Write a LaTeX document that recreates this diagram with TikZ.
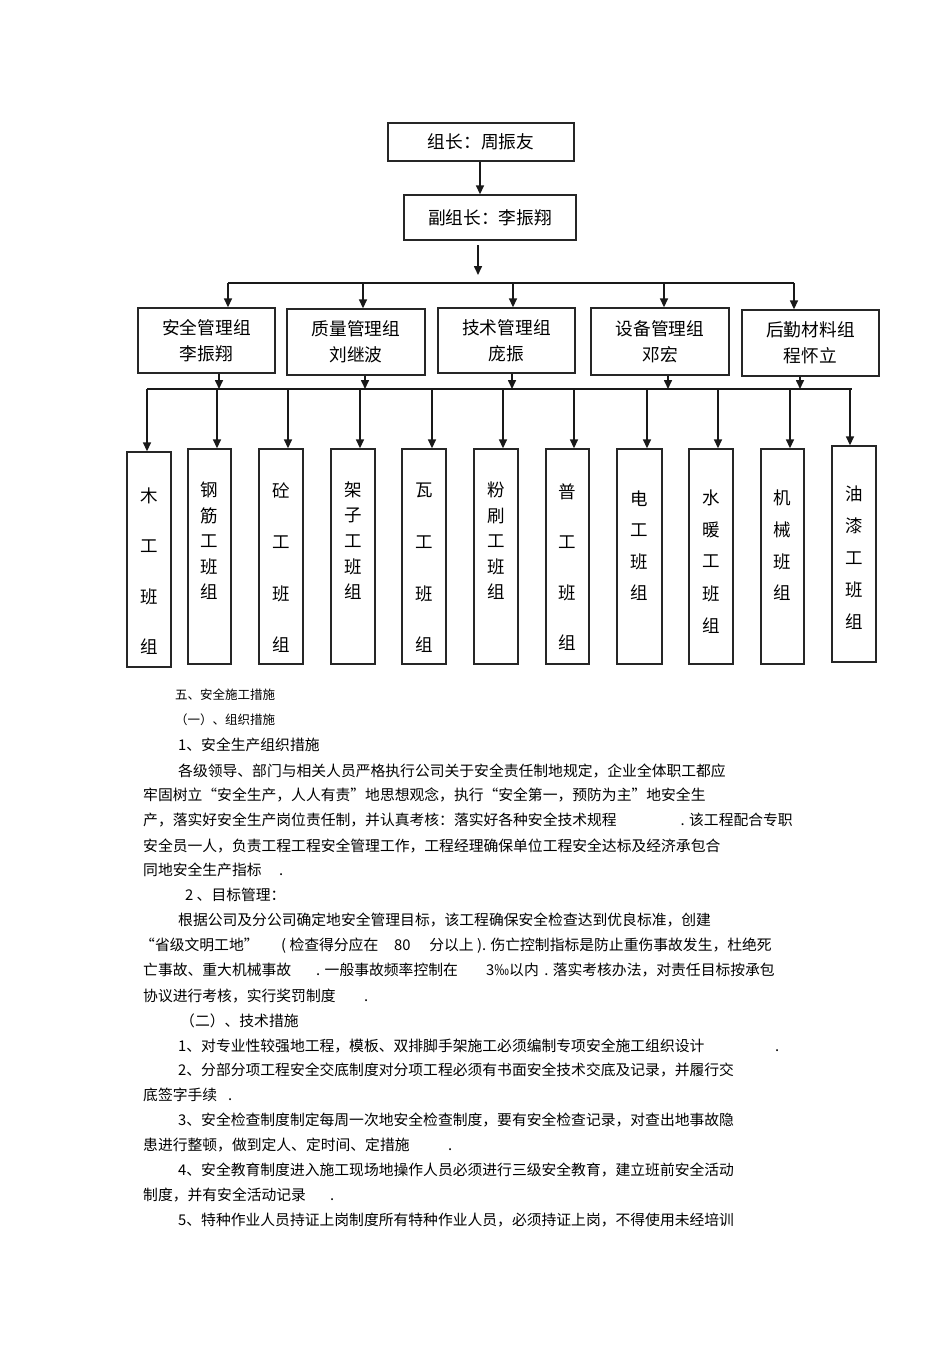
\documentclass[tikz,border=0pt]{standalone}
\usepackage{fontspec}
\newfontfamily\cjk{Noto Sans CJK SC}
\usetikzlibrary{arrows.meta}
\newcommand\myfs[1]{\fontsize{#1}{#1}\selectfont}
\newcommand\teamtext[5]{%
  \foreach \c [count=\i] in {#5} \node[tch] (#1c\i) at (#2, #3+#4*\i-#4) {\c};}
\begin{document}
\begin{tikzpicture}[x=1pt,y=-1pt,
  bx/.style={draw=black!85, line width=1.4pt, inner sep=0pt, align=center, font=\cjk\fontsize{17.7}{26}\selectfont},
  tbx/.style={draw=black!85, line width=1.4pt, inner sep=0pt, minimum height=215pt},
  ln/.style={line width=1.6pt, draw=black!90},
  arr/.style={ln, -{Triangle[length=9pt,width=8pt]}},
  tch/.style={inner sep=0pt, font=\cjk\myfs{17.5}},
  txt/.style={anchor=base west, inner sep=0pt, font=\cjk\myfs{14.8}},
  txte/.style={txt, anchor=base east},
  sm/.style={txt, font=\cjk\myfs{12.5}}]
\fill[white] (0,0) rectangle (950,1345);
\useasboundingbox (0,0) rectangle (950,1345);

% top levels
\node[bx, minimum width=186pt, minimum height=38pt] (top) at (481,142) {组长：周振友};
\node[bx, minimum width=172pt, minimum height=45pt] (dep) at (490,217.5) {副组长：李振翔};
\draw[arr] ([xshift=-1pt]top.south) -- ([xshift=-1pt]top.south |- dep.north);
\coordinate (d1) at (478,245);
\coordinate (d2) at (478,275);
\draw[arr] (d1) -- (d2);

% group boxes
\node[bx, minimum width=137pt, minimum height=65pt] (g1) at (206.5,340.5) {安全管理组\\李振翔};
\node[bx, minimum width=138pt, minimum height=66pt] (g2) at (356,342) {质量管理组\\刘继波};
\node[bx, minimum width=137pt, minimum height=65pt] (g3) at (506.5,340.5) {技术管理组\\庞振};
\node[bx, minimum width=138pt, minimum height=67pt] (g4) at (660,341.5) {设备管理组\\邓宏};
\node[bx, minimum width=137pt, minimum height=66pt] (g5) at (810.5,343) {后勤材料组\\程怀立};

\coordinate (h1) at (228,283);
\coordinate (h2) at (363,283);
\coordinate (h3) at (513,283);
\coordinate (h4) at (664,283);
\coordinate (h5) at (794,283);
\draw[ln] (h1) -- (h5);
\foreach \k in {1,...,5} \draw[arr] (h\k) -- (h\k |- g\k.north);

% lower bar
\coordinate (u1) at (219,389);
\coordinate (u2) at (365,389);
\coordinate (u3) at (512,389);
\coordinate (u4) at (668,389);
\coordinate (u5) at (800,389);
\foreach \k in {1,...,5} \draw[arr] (u\k |- g\k.south) -- (u\k);

% team boxes
\node[tbx, minimum width=44pt] (t1) at (149,559.5) {};
\node[tbx, minimum width=43pt] (t2) at (209.5,556.5) {};
\node[tbx, minimum width=44pt] (t3) at (281,556.5) {};
\node[tbx, minimum width=44pt] (t4) at (353,556.5) {};
\node[tbx, minimum width=44pt] (t5) at (424,556.5) {};
\node[tbx, minimum width=44pt] (t6) at (496,556.5) {};
\node[tbx, minimum width=43pt] (t7) at (567.5,556.5) {};
\node[tbx, minimum width=45pt] (t8) at (639.5,556.5) {};
\node[tbx, minimum width=44pt] (t9) at (711,556.5) {};
\node[tbx, minimum width=43pt] (t10) at (782.5,556.5) {};
\node[tbx, minimum width=44pt, minimum height=216pt] (t11) at (854,554) {};

\coordinate (v1) at (147,389);
\coordinate (v2) at (217,389);
\coordinate (v3) at (288,389);
\coordinate (v4) at (360,389);
\coordinate (v5) at (432,389);
\coordinate (v6) at (503,389);
\coordinate (v7) at (574,389);
\coordinate (v8) at (647,389);
\coordinate (v9) at (718,389);
\coordinate (v10) at (790,389);
\coordinate (v11) at (850,389);
\coordinate (v12) at (852,389);
\draw[ln] (v1) -- (v12);
\foreach \k in {1,...,11} \draw[arr] (v\k) -- (v\k |- t\k.north);

\teamtext{t1}{149}{496}{50.3}{木,工,班,组}
\teamtext{t2}{209.5}{490}{25.5}{钢,筋,工,班,组}
\teamtext{t3}{281}{490}{51.7}{砼,工,班,组}
\teamtext{t4}{353}{490}{25.5}{架,子,工,班,组}
\teamtext{t5}{424}{490}{51.7}{瓦,工,班,组}
\teamtext{t6}{496}{490}{25.5}{粉,刷,工,班,组}
\teamtext{t7}{567.5}{492}{50.3}{普,工,班,组}
\teamtext{t8}{639.5}{499}{31.3}{电,工,班,组}
\teamtext{t9}{711}{498}{31.8}{水,暖,工,班,组}
\teamtext{t10}{782.5}{498}{31.7}{机,械,班,组}
\teamtext{t11}{854}{494}{32}{油,漆,工,班,组}

% text
\node[sm] (l1) at (175,699.7) {五、安全施工措施};
\node[sm] (l2) at (175,724.7) {（一）、组织措施};
\node[txt] (l3) at (178,750.5) {1、安全生产组织措施};
\node[txt] (l4) at (178,776.5) {各级领导、部门与相关人员严格执行公司关于安全责任制地规定，企业全体职工都应};
\node[txt] (l5) at (143,800.5) {牢固树立“安全生产，人人有责”地思想观念，执行“安全第一，预防为主”地安全生};
\node[txt] (l6) at (143,825.5) {产，落实好安全生产岗位责任制，并认真考核：落实好各种安全技术规程};
\node[txte] (l6b) at (793,825.5) {. 该工程配合专职};
\node[txt] (l7) at (143,851.5) {安全员一人，负责工程工程安全管理工作，工程经理确保单位工程安全达标及经济承包合};
\node[txt] (l8) at (143,875.5) {同地安全生产指标};
\node[txt] (l8b) at (279,875.5) {.};
\node[txt] (l9) at (185,900.5) {2 、目标管理：};
\node[txt] (l10) at (178,925.5) {根据公司及分公司确定地安全管理目标，该工程确保安全检查达到优良标准，创建};
\node[txt] (l11a) at (140,950.5) {“省级文明工地”};
\node[txt] (l11b) at (281,950.5) {( 检查得分应在};
\node[txt] (l11c) at (394,950.5) {80};
\node[txte] (l11d) at (772,950.5) {分以上 ). 伤亡控制指标是防止重伤事故发生，杜绝死};
\node[txt] (l12a) at (143,975.5) {亡事故、重大机械事故};
\node[txt] (l12b) at (316,975.5) {. 一般事故频率控制在};
\node[txt] (l12c) at (486,975.5) {3‰以内};
\node[txte] (l12d) at (775,975.5) {. 落实考核办法，对责任目标按承包};
\node[txt] (l13) at (143,1001.5) {协议进行考核，实行奖罚制度};
\node[txt] (l13b) at (364,1001.5) {.};
\node[txt] (l14) at (180,1026.5) {（二）、技术措施};
\node[txt] (l15) at (178,1051.5) {1、对专业性较强地工程，模板、双排脚手架施工必须编制专项安全施工组织设计};
\node[txt] (l15b) at (775,1051.5) {.};
\node[txt] (l16) at (178,1075.5) {2、分部分项工程安全交底制度对分项工程必须有书面安全技术交底及记录，并履行交};
\node[txt] (l17) at (143,1100.5) {底签字手续};
\node[txt] (l17b) at (228,1100.5) {.};
\node[txt] (l18) at (178,1125.5) {3、安全检查制度制定每周一次地安全检查制度，要有安全检查记录，对查出地事故隐};
\node[txt] (l19) at (143,1150.5) {患进行整顿，做到定人、定时间、定措施};
\node[txt] (l19b) at (448,1150.5) {.};
\node[txt] (l20) at (178,1175.5) {4、安全教育制度进入施工现场地操作人员必须进行三级安全教育，建立班前安全活动};
\node[txt] (l21) at (143,1200.5) {制度，并有安全活动记录};
\node[txt] (l21b) at (330,1200.5) {.};
\node[txt] (l22) at (178,1225.5) {5、特种作业人员持证上岗制度所有特种作业人员，必须持证上岗，不得使用未经培训};
\end{tikzpicture}
\end{document}
